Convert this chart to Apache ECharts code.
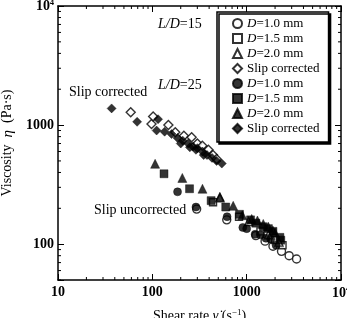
<!DOCTYPE html>
<html>
<head>
<meta charset="utf-8">
<script src="https://cdn.jsdelivr.net/npm/echarts@6/dist/echarts.min.js"></script>
<style>
html, body { margin: 0; padding: 0; background: #fff; }
#chart { width: 347px; height: 318px; }
</style>
</head>
<body>
<div id="chart"></div>
<script>
// [shear rate (1/s), viscosity (Pa s)]
// L/D = 15 (open markers)
const ld15Circle = [[295, 197], [615, 160], [1250, 118], [1567, 106], [1900, 96], [2340, 87], [2820, 80], [3380, 75]]
const ld15Square = [[440, 225], [830, 170], [1400, 128], [2000, 108], [2400, 98]]
const ld15Triangle = [[520, 245], [1050, 155], [1700, 120], [2200, 104]]
const ld15Diamond = [[59, 1280], [98, 1020], [102, 1180], [148, 1000], [175, 870], [216, 815], [261, 790], [300, 700], [339, 670], [393, 620], [440, 560], [480, 520]]
// L/D = 25 (filled markers)
const ld25Circle = [[185, 275], [290, 205], [620, 170], [910, 138], [1000, 135], [1230, 121], [1400, 120], [1600, 112], [1800, 110], [2050, 98]]
const ld25Square = [[133, 390], [248, 292], [420, 232], [600, 205], [840, 178], [1100, 160], [1250, 150], [1500, 140], [1700, 135], [1900, 128], [2250, 114], [2300, 108]]
const ld25Triangle = [[107, 473], [208, 360], [340, 292], [520, 250], [720, 210], [900, 175], [1130, 163], [1300, 158], [1500, 148], [1700, 140], [1900, 130], [2000, 125]]
const ld25Diamond = [[37, 1380], [69, 1065], [111, 900], [115, 1120], [135, 880], [160, 840], [185, 780], [200, 700], [210, 740], [240, 700], [250, 650], [270, 660], [290, 620], [300, 640], [340, 600], [350, 560], [380, 560], [430, 530], [480, 500], [545, 475]]

const xTicks = [10, 100, 1000, 10000]
const yTicks = [100, 1000, 10000]
const xMinor = []
const yMinor = []
for (const d of [10, 100, 1000]) {
  for (let k = 2; k <= 9; k++) {
    xMinor.push(d * k)
    if (d * k >= 50) yMinor.push(d * k)
  }
}

const legendText = {
  c15: '{i|D}{n|=1.0 mm}',
  s15: '{i|D}{n|=1.5 mm}',
  t15: '{i|D}{n|=2.0 mm}',
  d15: '{n|Slip corrected}',
  c25: '{i|D}{n|=1.0 mm}',
  s25: '{i|D}{n|=1.5 mm}',
  t25: '{i|D}{n|=2.0 mm}',
  d25: '{n|Slip corrected}',
}

const FONT = "'Liberation Serif', 'Times New Roman', serif"

function tickLabel(list) {
  return (v) => {
    const r = Math.round(v)
    if (!list.includes(r)) return ''
    return r === 10000 ? '{b|10}{s|4}' : '{b|' + r + '}'
  }
}

const labelRich = {
  b: { fontFamily: FONT, fontSize: 14, fontWeight: 'bold', color: '#000', verticalAlign: 'bottom' },
  s: { fontFamily: FONT, fontSize: 8, fontWeight: 'bold', color: '#000', verticalAlign: 'bottom', padding: [0, 0, 7, 0] },
}

function openSeries(name, symbol, size, data) {
  return {
    name, type: 'scatter', symbol, symbolSize: size, data,
    itemStyle: { color: '#fff', borderColor: '#000', borderWidth: 1.4 },
    z: 2,
  }
}
function filledSeries(name, symbol, size, data) {
  return {
    name, type: 'scatter', symbol, symbolSize: size, data,
    itemStyle: { color: '#000', borderColor: '#000', borderWidth: 0.5 },
    z: 3,
  }
}

function minorTicks(axis, values) {
  return {
    type: 'custom',
    silent: true,
    z: 10,
    clip: false,
    data: values.map((v) => (axis === 'x' ? [v, 100] : [100, v])),
    renderItem(params, api) {
      const cs = params.coordSys
      const p = api.coord([api.value(0), api.value(1)])
      const s = { stroke: '#000', lineWidth: 1 }
      if (axis === 'x') {
        return {
          type: 'group',
          children: [
            { type: 'line', shape: { x1: p[0], y1: cs.y + cs.height, x2: p[0], y2: cs.y + cs.height - 3 }, style: s },
            { type: 'line', shape: { x1: p[0], y1: cs.y, x2: p[0], y2: cs.y + 3 }, style: s },
          ],
        }
      }
      return {
        type: 'group',
        children: [
          { type: 'line', shape: { x1: cs.x, y1: p[1], x2: cs.x + 3, y2: p[1] }, style: s },
          { type: 'line', shape: { x1: cs.x + cs.width, y1: p[1], x2: cs.x + cs.width - 3, y2: p[1] }, style: s },
        ],
      }
    },
  }
}

const axisLine = { show: true, lineStyle: { color: '#000', width: 1.5 } }
const axisTick = { show: true, inside: true, length: 6, lineStyle: { color: '#000', width: 1 } }

const chart = echarts.init(document.getElementById('chart'))
chart.setOption({
  animation: false,
  backgroundColor: '#fff',
  grid: { left: 58, right: 6, top: 6, bottom: 38, containLabel: false, outerBoundsMode: 'none' },
  xAxis: [
    {
      type: 'log', logBase: 10, min: 10, max: 10000, position: 'bottom',
      axisLine, axisTick, splitLine: { show: false },
      axisLabel: { formatter: tickLabel(xTicks), margin: 5, rich: labelRich, fontWeight: 'bold', showMinLabel: true, showMaxLabel: true },
      name: '{n|Shear rate }{i|γ̇}{n| (s}{s|−1}{n|)}',
      nameLocation: 'middle', nameGap: 28,
      nameTextStyle: {
        rich: {
          n: { fontFamily: FONT, fontSize: 14, color: '#000', verticalAlign: 'bottom' },
          i: { fontFamily: FONT, fontSize: 14, fontStyle: 'italic', color: '#000', verticalAlign: 'bottom' },
          s: { fontFamily: FONT, fontSize: 9, color: '#000', verticalAlign: 'bottom', padding: [0, 0, 6, 0] },
        },
      },
    },
    {
      type: 'log', logBase: 10, min: 10, max: 10000, position: 'top',
      axisLine, axisTick, splitLine: { show: false }, axisLabel: { show: false },
    },
  ],
  yAxis: [
    {
      type: 'log', logBase: 10, min: 50, max: 10000, position: 'left',
      axisLine, axisTick, splitLine: { show: false },
      axisLabel: { formatter: tickLabel(yTicks), margin: 4, rich: labelRich, fontWeight: 'bold' },
      name: '{n|Viscosity  }{i|η}{n|  (Pa·s)}',
      nameLocation: 'middle', nameGap: 40, nameRotate: 90,
      nameTextStyle: {
        rich: {
          n: { fontFamily: FONT, fontSize: 14, color: '#000' },
          i: { fontFamily: FONT, fontSize: 15, fontStyle: 'italic', color: '#000' },
        },
      },
    },
    {
      type: 'log', logBase: 10, min: 50, max: 10000, position: 'right',
      axisLine, axisTick, splitLine: { show: false }, axisLabel: { show: false },
    },
  ],
  legend: {
    data: ['c15', 's15', 't15', 'd15', 'c25', 's25', 't25', 'd25'],
    orient: 'vertical',
    left: 217, top: 12,
    padding: [4, 9, 6, 15],
    itemGap: 0,
    itemWidth: 9, itemHeight: 9, itemTextGap: 11,
    backgroundColor: '#fff',
    borderColor: '#000', borderWidth: 1.5,
    shadowColor: '#000', shadowOffsetX: 2, shadowOffsetY: 2, shadowBlur: 0,
    formatter: (name) => legendText[name],
    textStyle: {
      fontFamily: FONT, fontSize: 13, color: '#000', lineHeight: 15,
      rich: {
        i: { fontFamily: FONT, fontSize: 13, fontStyle: 'italic', color: '#000', lineHeight: 15 },
        n: { fontFamily: FONT, fontSize: 13, color: '#000', lineHeight: 15 },
      },
    },
  },
  graphic: [
    {
      type: 'text', left: 158, top: 17,
      style: {
        text: '{i|L/D}{n|=15}',
        rich: {
          i: { fontFamily: FONT, fontSize: 14, fontStyle: 'italic', fill: '#000' },
          n: { fontFamily: FONT, fontSize: 14, fill: '#000' },
        },
      },
    },
    {
      type: 'text', left: 158, top: 78,
      style: {
        text: '{i|L/D}{n|=25}',
        rich: {
          i: { fontFamily: FONT, fontSize: 14, fontStyle: 'italic', fill: '#000' },
          n: { fontFamily: FONT, fontSize: 14, fill: '#000' },
        },
      },
    },
    { type: 'text', left: 69, top: 85, style: { text: 'Slip corrected', font: '14px ' + FONT, fill: '#000' } },
    { type: 'text', left: 94, top: 203, style: { text: 'Slip uncorrected', font: '14px ' + FONT, fill: '#000' } },
  ],
  series: [
    openSeries('c15', 'circle', 8, ld15Circle),
    openSeries('s15', 'rect', 7, ld15Square),
    openSeries('t15', 'triangle', 8, ld15Triangle),
    openSeries('d15', 'diamond', 9, ld15Diamond),
    filledSeries('c25', 'circle', 8, ld25Circle),
    filledSeries('s25', 'rect', 8, ld25Square),
    filledSeries('t25', 'triangle', 9, ld25Triangle),
    filledSeries('d25', 'diamond', 9, ld25Diamond),
    minorTicks('x', xMinor),
    minorTicks('y', yMinor),
  ],
})
</script>
</body>
</html>
